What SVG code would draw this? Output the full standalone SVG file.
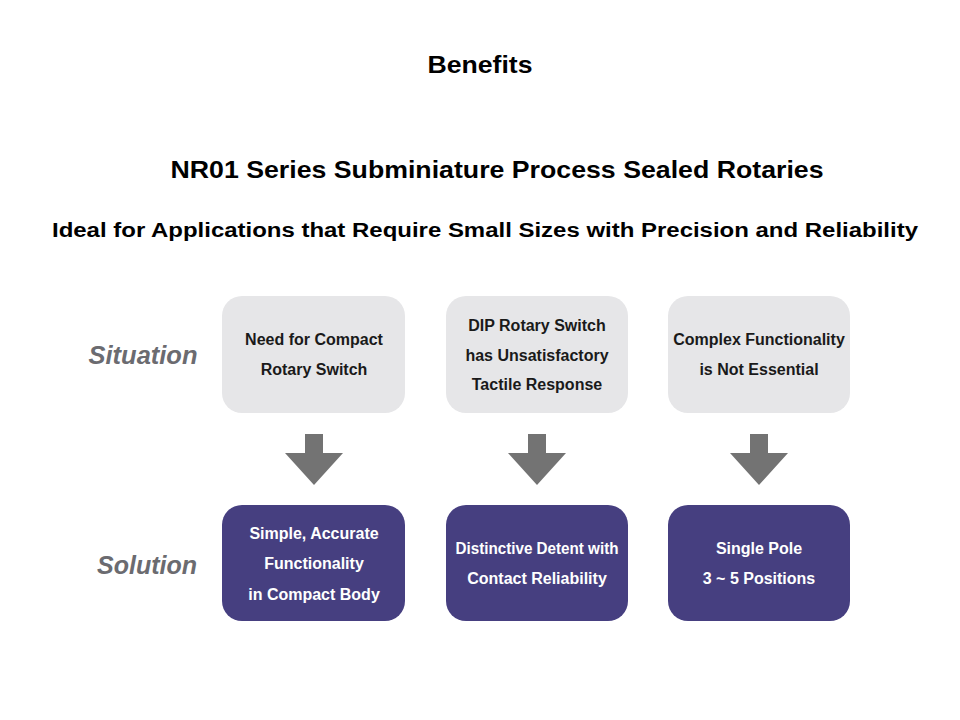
<svg xmlns="http://www.w3.org/2000/svg" width="960" height="720" viewBox="0 0 960 720">
<style>
.h{font-family:"Liberation Sans",Arial,sans-serif;font-weight:bold;fill:#000;text-anchor:middle}
.lab{font-family:"Liberation Sans",Arial,sans-serif;font-weight:bold;font-style:italic;font-size:25px;fill:#6b6b70;text-anchor:middle}
.sit{fill:#e6e6e8}
.sol{fill:#463f80}
.t{font-family:"Liberation Sans",Arial,sans-serif;font-weight:bold;font-size:16px;text-anchor:middle;dominant-baseline:central}
.ts{fill:#1a1a1a}
.tw{fill:#ffffff}
.arr{fill:#737373}
</style>
<rect width="960" height="720" fill="#ffffff"/>
<text class="h" x="480" y="73" font-size="24" textLength="105" lengthAdjust="spacingAndGlyphs">Benefits</text>
<text class="h" x="497" y="178" font-size="24" textLength="653" lengthAdjust="spacingAndGlyphs">NR01 Series Subminiature Process Sealed Rotaries</text>
<text class="h" x="485" y="237" font-size="20" textLength="866" lengthAdjust="spacingAndGlyphs">Ideal for Applications that Require Small Sizes with Precision and Reliability</text>
<text class="lab" x="143" y="364" textLength="109" lengthAdjust="spacingAndGlyphs">Situation</text>
<text class="lab" x="147" y="574" textLength="100" lengthAdjust="spacingAndGlyphs">Solution</text>
<g id="sit1"><rect class="sit" x="222" y="296" width="183" height="117" rx="20"/>
<text class="t ts" x="314" y="339">Need for Compact</text><text class="t ts" x="314" y="369">Rotary Switch</text></g>
<g id="sit2"><rect class="sit" x="446" y="296" width="182" height="117" rx="20"/>
<text class="t ts" x="537" y="325">DIP Rotary Switch</text><text class="t ts" x="537" y="355">has Unsatisfactory</text><text class="t ts" x="537" y="384">Tactile Response</text></g>
<g id="sit3"><rect class="sit" x="668" y="296" width="182" height="117" rx="20"/>
<text class="t ts" x="759" y="339">Complex Functionality</text><text class="t ts" x="759" y="369">is Not Essential</text></g>
<g id="sol1"><rect class="sol" x="222" y="505" width="183" height="116" rx="20"/>
<text class="t tw" x="314" y="533">Simple, Accurate</text><text class="t tw" x="314" y="563">Functionality</text><text class="t tw" x="314" y="594">in Compact Body</text></g>
<g id="sol2"><rect class="sol" x="446" y="505" width="182" height="116" rx="20"/>
<text class="t tw" x="537" y="548" textLength="163" lengthAdjust="spacingAndGlyphs">Distinctive Detent with</text><text class="t tw" x="537" y="578">Contact Reliability</text></g>
<g id="sol3"><rect class="sol" x="668" y="505" width="182" height="116" rx="20"/>
<text class="t tw" x="759" y="548">Single Pole</text><text class="t tw" x="759" y="578">3 ~ 5 Positions</text></g>
<g id="connectors">
<polygon class="arr" points="305,434 323,434 323,453 343,453 314,485 285,453 305,453"/>
<polygon class="arr" points="528,434 546,434 546,453 566,453 537,485 508,453 528,453"/>
<polygon class="arr" points="750,434 768,434 768,453 788,453 759,485 730,453 750,453"/>
</g>
</svg>
